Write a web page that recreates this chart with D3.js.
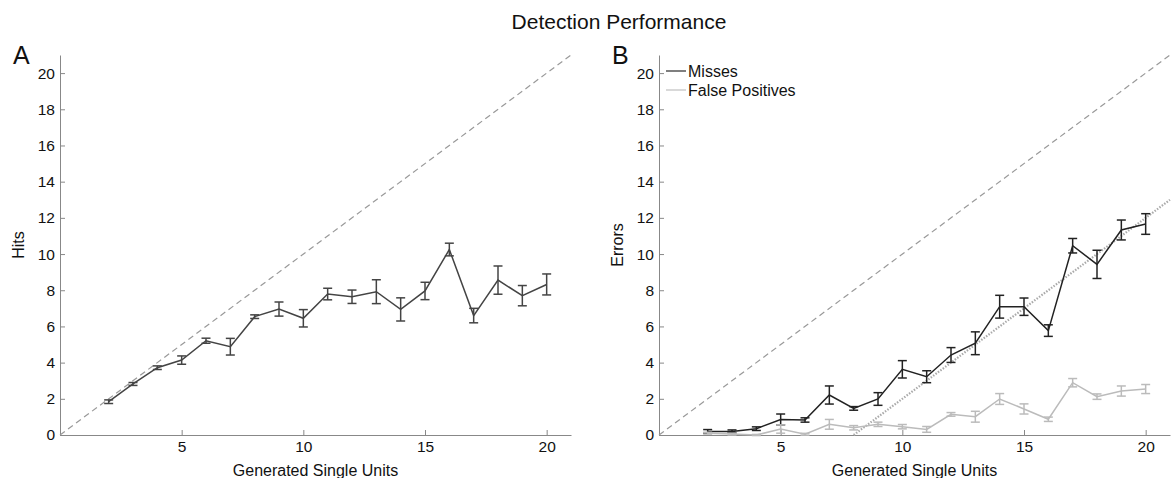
<!DOCTYPE html>
<html>
<head>
<meta charset="utf-8">
<script src="https://cdn.jsdelivr.net/npm/d3@7"></script>
<style>
  body { margin: 0; background: #fff; }
  svg { font-family: "Liberation Sans", Arial, sans-serif; }
  .axis path, .axis line { stroke: #888; }
  .axis text { fill: #111; font-size: 15.5px; }
</style>
</head>
<body>
<div id="chart"></div>
<script>
// values
var units = [2, 3, 4, 5, 6, 7, 8, 9, 10, 11, 12, 13, 14, 15, 16, 17, 18, 19, 20];
var hits =       [1.84, 2.82, 3.72, 4.14, 5.21, 4.88, 6.54, 6.96, 6.45, 7.79, 7.64, 7.92, 6.94, 7.96, 10.25, 6.6, 8.56, 7.7, 8.32];
var hitsErr =    [0.1, 0.08, 0.1, 0.23, 0.14, 0.46, 0.1, 0.39, 0.48, 0.32, 0.37, 0.66, 0.64, 0.48, 0.35, 0.4, 0.78, 0.56, 0.58];
var misses =     [0.2, 0.2, 0.35, 0.86, 0.83, 2.21, 1.47, 1.99, 3.63, 3.22, 4.42, 5.07, 7.09, 7.09, 5.77, 10.46, 9.43, 11.33, 11.66];
var missesErr =  [0.1, 0.08, 0.1, 0.3, 0.12, 0.5, 0.1, 0.35, 0.48, 0.33, 0.41, 0.63, 0.63, 0.48, 0.32, 0.4, 0.78, 0.55, 0.57];
var falsePos =   [0.1, 0.05, 0.0, 0.33, 0.04, 0.59, 0.4, 0.59, 0.46, 0.31, 1.14, 1.01, 1.99, 1.44, 0.87, 2.89, 2.12, 2.43, 2.54];
var falsePosErr= [0.05, 0.05, 0.03, 0.23, 0.05, 0.27, 0.12, 0.12, 0.12, 0.16, 0.1, 0.3, 0.3, 0.28, 0.12, 0.23, 0.15, 0.28, 0.25];
var xTicks = [5, 10, 15, 20];
var yTicks = [0, 2, 4, 6, 8, 10, 12, 14, 16, 18, 20];
var identity = [[0, 0], [21, 21]];
var missTrend = [[8, 0], [21, 13]];

var W = 1174, H = 478;
var svg = d3.select("#chart").append("svg").attr("width", W).attr("height", H);

svg.append("text")
  .attr("x", 619).attr("y", 29)
  .attr("text-anchor", "middle")
  .attr("font-size", "21px").attr("fill", "#111")
  .text("Detection Performance");

function panel(left, letter, yLabel, series, trend) {
  var x = d3.scaleLinear().domain([0, 21]).range([left, left + 511]);
  var y = d3.scaleLinear().domain([0, 21]).range([435, 55]);

  svg.append("g")
      .attr("class", "axis")
      .attr("transform", "translate(0,435)")
      .call(d3.axisBottom(x).tickValues(xTicks).tickSizeInner(-5).tickSizeOuter(0).tickPadding(6));

  svg.append("g")
      .attr("class", "axis")
      .attr("transform", "translate(" + left + ",0)")
      .call(d3.axisLeft(y).tickValues(yTicks).tickSizeInner(-5).tickSizeOuter(0).tickPadding(5));

  var line = d3.line().x(function(d) { return x(d[0]); }).y(function(d) { return y(d[1]); });

  svg.append("path")
    .attr("d", line(identity))
    .attr("fill", "none").attr("stroke", "#999").attr("stroke-width", 1.2)
    .attr("stroke-dasharray", "6,4");

  if (trend) {
    svg.append("path")
      .attr("d", line(trend))
      .attr("fill", "none").attr("stroke", "#aaa").attr("stroke-width", 2.2)
      .attr("stroke-dasharray", "1.5,1.5");
  }

  series.forEach(function(s) {
    var pts = units.map(function(u, i) { return [u, s.values[i]]; });
    svg.append("path")
      .attr("d", line(pts))
      .attr("fill", "none").attr("stroke", s.color).attr("stroke-width", 1.5);

    var g = svg.append("g").attr("stroke", s.color).attr("stroke-width", 1.5);
    units.forEach(function(u, i) {
      var lo = y(s.values[i] - s.err[i]), hi = y(s.values[i] + s.err[i]), cx = x(u);
      g.append("line").attr("x1", cx).attr("x2", cx).attr("y1", lo).attr("y2", hi);
      g.append("line").attr("x1", cx - 4.5).attr("x2", cx + 4.5).attr("y1", lo).attr("y2", lo);
      g.append("line").attr("x1", cx - 4.5).attr("x2", cx + 4.5).attr("y1", hi).attr("y2", hi);
    });
  });

  svg.append("text")
    .attr("x", (x.range()[0] + x.range()[1]) / 2).attr("y", 476)
    .attr("text-anchor", "middle").attr("font-size", "16px").attr("fill", "#111")
    .text("Generated Single Units");

  svg.append("text")
    .attr("transform", "translate(" + (left - 36) + ",245) rotate(-90)")
    .attr("text-anchor", "middle").attr("font-size", "16px").attr("fill", "#111")
    .text(yLabel);

  svg.append("text")
    .attr("x", left - 47).attr("y", 64)
    .attr("font-size", "25px").attr("fill", "#111")
    .text(letter);

  return x;
}

panel(60, "A", "Hits", [{values: hits, err: hitsErr, color: "#444"}], null);

var seriesB = [
  {name: "Misses", values: misses, err: missesErr, color: "#222"},
  {name: "False Positives", values: falsePos, err: falsePosErr, color: "#bbb"}
];
panel(659, "B", "Errors", seriesB, missTrend);

// legend
var leg = svg.append("g").attr("transform", "translate(666,71)");
seriesB.forEach(function(s, i) {
  leg.append("line")
    .attr("x1", 0).attr("x2", 20).attr("y1", i * 19).attr("y2", i * 19)
    .attr("stroke", i === 0 ? "#555" : "#ccc").attr("stroke-width", 1.5);
  leg.append("text")
    .attr("x", 22).attr("y", i * 19).attr("dy", "0.35em")
    .attr("font-size", "16px").attr("fill", "#111")
    .text(s.name);
});
</script>
</body>
</html>
